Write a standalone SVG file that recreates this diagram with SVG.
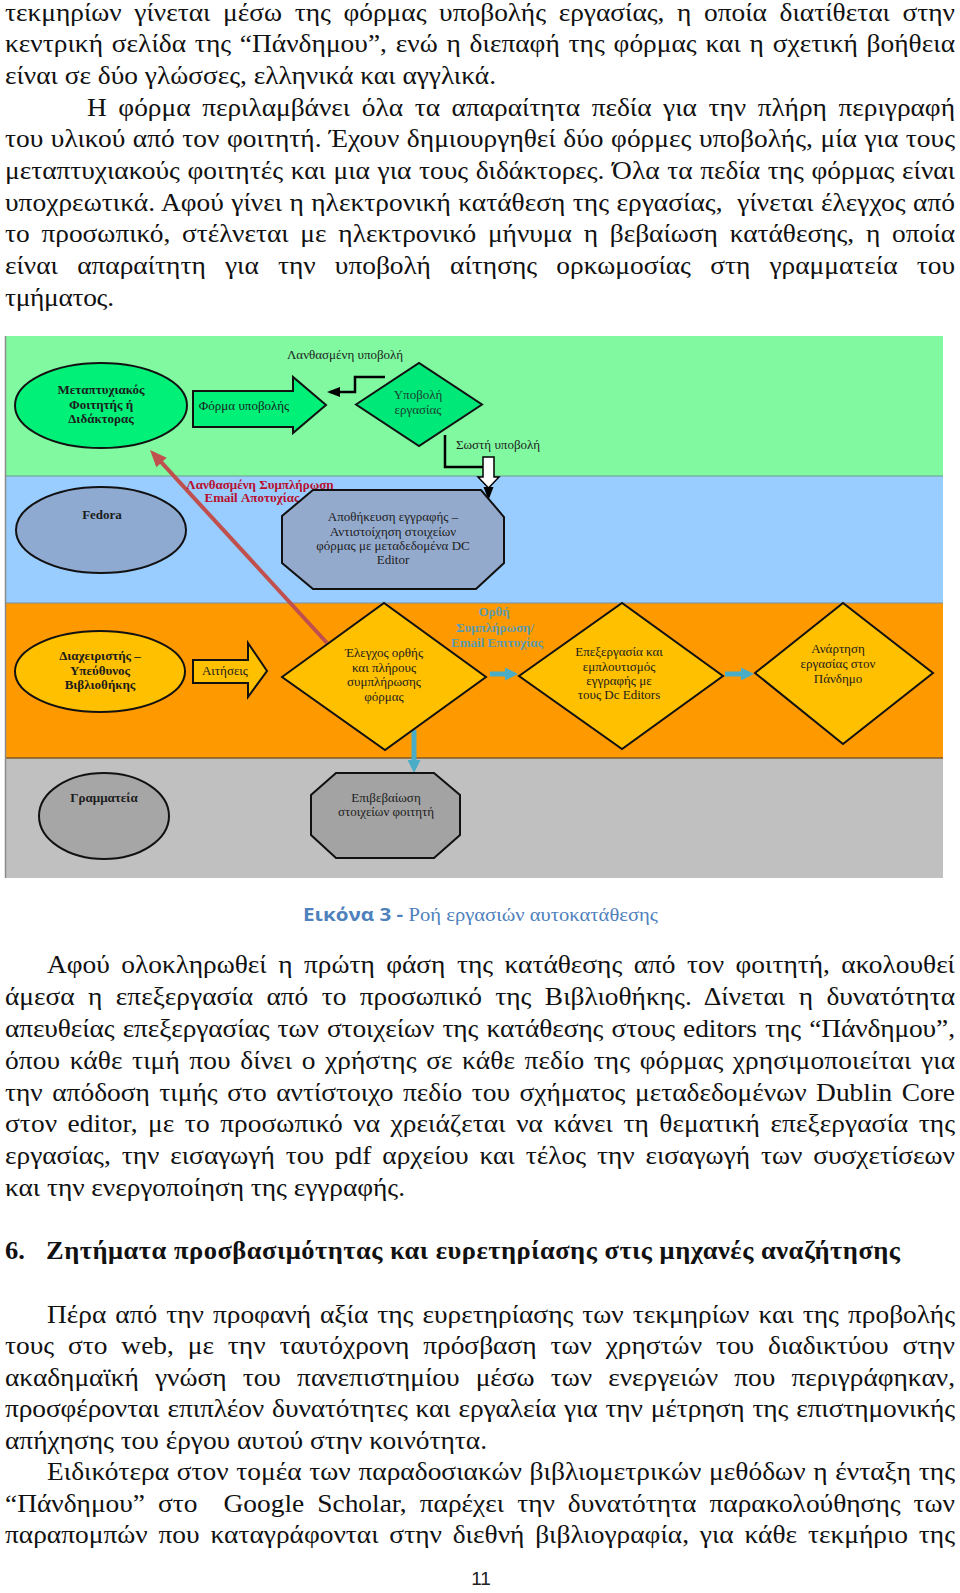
<svg xmlns="http://www.w3.org/2000/svg" width="960" height="1593" viewBox="0 0 960 1593">
<style>
.body{font-family:"Liberation Serif","Times New Roman",serif;font-size:26px;fill:#111}
.hd{font-family:"Liberation Serif","Times New Roman",serif;font-size:25px;font-weight:bold;fill:#111}
.dg{font-family:"Liberation Serif","Times New Roman",serif;font-size:13px;fill:#1c1c1c;text-anchor:middle}
.b{font-weight:bold}
.red{fill:#b8102e}
.teal{fill:#5b9bad}
.nstroke{stroke:#111;stroke-width:2}
.conn{fill:none;stroke:#000;stroke-width:2.5}
</style>
<defs>
<marker id="ahBlack" markerWidth="14" markerHeight="12" refX="10" refY="5" orient="auto" markerUnits="userSpaceOnUse" overflow="visible"><path d="M0,0 L13,5 L0,10 z" fill="#000"/></marker>
<marker id="ahRed" markerWidth="18" markerHeight="16" refX="12" refY="7" orient="auto" markerUnits="userSpaceOnUse" overflow="visible"><path d="M0,0 L17,7 L0,14 z" fill="#c0504d"/></marker>
<marker id="ahCyan" markerWidth="14" markerHeight="14" refX="8" refY="6.5" orient="auto" markerUnits="userSpaceOnUse" overflow="visible"><path d="M0,0 L13,6.5 L0,13 z" fill="#4bacc6"/></marker>
</defs>
<rect width="960" height="1593" fill="#fff"/>

<g id="text-top" transform="scale(1.054 1)">
<text class="body" x="4.744" y="20.5" word-spacing="5.46" textLength="901.33" lengthAdjust="spacing">τεκμηρίων γίνεται μέσω της φόρμας υποβολής εργασίας, η οποία διατίθεται στην</text>
<text class="body" x="4.744" y="52.2" word-spacing="1.8" textLength="901.33" lengthAdjust="spacing">κεντρική σελίδα της “Πάνδημου”, ενώ η διεπαφή της φόρμας και η σχετική βοήθεια</text>
<text class="body" x="4.744" y="83.9" textLength="465.84" lengthAdjust="spacing">είναι σε δύο γλώσσες, ελληνικά και αγγλικά.</text>
<text class="body" x="82.54" y="115.6" word-spacing="4.53" textLength="823.53" lengthAdjust="spacing">Η φόρμα περιλαμβάνει όλα τα απαραίτητα πεδία για την πλήρη περιγραφή</text>
<text class="body" x="4.744" y="147.3" word-spacing="0.6" textLength="901.33" lengthAdjust="spacing">του υλικού από τον φοιτητή. Έχουν δημιουργηθεί δύο φόρμες υποβολής, μία για τους</text>
<text class="body" x="4.744" y="179" word-spacing="0.8" textLength="901.33" lengthAdjust="spacing">μεταπτυχιακούς φοιτητές και μια για τους διδάκτορες. Όλα τα πεδία της φόρμας είναι</text>
<text class="body" x="4.744" y="210.7" word-spacing="0.4" textLength="901.33" lengthAdjust="spacing">υποχρεωτικά. Αφού γίνει η ηλεκτρονική κατάθεση της εργασίας, &#160;γίνεται έλεγχος από</text>
<text class="body" x="4.744" y="242.4" word-spacing="4.71" textLength="901.33" lengthAdjust="spacing">το προσωπικό, στέλνεται με ηλεκτρονικό μήνυμα η βεβαίωση κατάθεσης, η οποία</text>
<text class="body" x="4.744" y="274.1" word-spacing="11.71" textLength="901.33" lengthAdjust="spacing">είναι απαραίτητη για την υποβολή αίτησης ορκωμοσίας στη γραμματεία του</text>
<text class="body" x="4.744" y="305.8" textLength="103.42" lengthAdjust="spacing">τμήματος.</text>
</g>

<g id="bands">
<rect x="5" y="336" width="938" height="140" fill="#80f9a0"/>
<rect x="5" y="476" width="938" height="127" fill="#99ccff"/>
<rect x="5" y="603" width="938" height="155" fill="#ff9900"/>
<rect x="5" y="758" width="938" height="120" fill="#c0c0c0"/>
<line x1="5" y1="476" x2="943" y2="476" stroke="#6e9c8c" stroke-width="1.2"/>
<line x1="5" y1="603" x2="943" y2="603" stroke="#7f8fa0" stroke-width="1.2"/>
<line x1="5" y1="758" x2="943" y2="758" stroke="#7f5a2a" stroke-width="1.5"/>
<line x1="5.5" y1="336" x2="5.5" y2="878" stroke="#8a8a8a" stroke-width="1.5"/>
</g>

<g id="connectors">
<polyline class="conn" points="385,377 355,377 355,392 330,392" marker-end="url(#ahBlack)"/>
<polyline class="conn" points="445,435 445,467 483,467"/>
<polygon points="483,457 494,457 494,477 499,477 488.5,488 478,477 483,477" fill="#fff" stroke="#000" stroke-width="1.5"/>
<line x1="488.5" y1="488" x2="488.5" y2="497" stroke="#000" stroke-width="2" marker-end="url(#ahBlack)"/>
<line x1="327" y1="643" x2="153.4" y2="453.7" stroke="#c0504d" stroke-width="4" marker-end="url(#ahRed)"/>
<line x1="490" y1="674" x2="513" y2="674" stroke="#4bacc6" stroke-width="5" marker-end="url(#ahCyan)"/>
<line x1="725" y1="674" x2="749" y2="674" stroke="#4bacc6" stroke-width="5" marker-end="url(#ahCyan)"/>
<line x1="414" y1="730" x2="414" y2="768" stroke="#4bacc6" stroke-width="5" marker-end="url(#ahCyan)"/>
<text class="dg" x="345" y="359">Λανθασμένη υποβολή</text>
<text class="dg" x="498" y="449">Σωστή υποβολή</text>
<text class="dg b red" x="260" y="489">Λανθασμένη Συμπλήρωση</text>
<text class="dg b red" x="252" y="502">Email Αποτυχίας</text>
<text class="dg b teal" x="494" y="616">Ορθή</text>
<text class="dg b teal" x="495" y="631.5">Συμπλήρωση/</text>
<text class="dg b teal" x="497" y="647">Email Επιτυχίας</text>
</g>

<g id="student">
<ellipse cx="101" cy="405.5" rx="86" ry="42.5" fill="#00f078" class="nstroke"/>
<text class="dg b" x="101" y="394">Μεταπτυχιακός</text>
<text class="dg b" x="101" y="408.5">Φοιτητής ή</text>
<text class="dg b" x="101" y="423">Διδάκτορας</text>
</g>

<g id="form-arrow">
<polygon points="193,391 293,391 293,377 326,405 293,433 293,427 193,427" fill="#00f078" class="nstroke"/>
<text class="dg" x="244" y="410">Φόρμα υποβολής</text>
</g>

<g id="submit">
<polygon points="356,404.5 419,363 482,404.5 419,446" fill="#00e878" class="nstroke"/>
<text class="dg" x="418" y="399" style="fill:#1a3f30">Υποβολή</text>
<text class="dg" x="418" y="414" style="fill:#1a3f30">εργασίας</text>
</g>

<g id="fedora">
<ellipse cx="101" cy="530" rx="85" ry="43" fill="#8eaad0" class="nstroke"/>
<text class="dg b" x="102" y="519">Fedora</text>
</g>

<g id="store">
<polygon points="313,490 481,490 504,517 504,563 476,589 313,589 282,563 282,516" fill="#94aacc" class="nstroke"/>
<text class="dg" x="393" y="521">Αποθήκευση εγγραφής –</text>
<text class="dg" x="393" y="536">Αντιστοίχηση στοιχείων</text>
<text class="dg" x="393" y="550">φόρμας με μεταδεδομένα DC</text>
<text class="dg" x="393" y="564">Editor</text>
</g>

<g id="admin">
<ellipse cx="100" cy="671.5" rx="85" ry="40.5" fill="#ffc000" class="nstroke"/>
<text class="dg b" x="100" y="660">Διαχειριστής –</text>
<text class="dg b" x="100" y="674.5">Υπεύθυνος</text>
<text class="dg b" x="100" y="689">Βιβλιοθήκης</text>
</g>

<g id="requests-arrow">
<polygon points="193,660 248,660 248,643 267,671 248,697 248,683 193,683" fill="#ffc000" class="nstroke"/>
<text class="dg" x="225" y="675">Αιτήσεις</text>
</g>

<g id="check">
<polygon points="282,677 384,603 486,677 385,750" fill="#ffc000" class="nstroke"/>
<text class="dg" x="384" y="657">Έλεγχος ορθής</text>
<text class="dg" x="384" y="671.5">και πλήρους</text>
<text class="dg" x="384" y="686">συμπλήρωσης</text>
<text class="dg" x="384" y="700.5">φόρμας</text>
</g>

<g id="edit">
<polygon points="519,676 622,603 723,676 622,749" fill="#ffc000" class="nstroke"/>
<text class="dg" x="619" y="656">Επεξεργασία και</text>
<text class="dg" x="619" y="670.5">εμπλουτισμός</text>
<text class="dg" x="619" y="685">εγγραφής με</text>
<text class="dg" x="619" y="699">τους Dc Editors</text>
</g>

<g id="publish">
<polygon points="755,673 843,603 933,673 843,744" fill="#ffc000" class="nstroke"/>
<text class="dg" x="838" y="653">Ανάρτηση</text>
<text class="dg" x="838" y="668">εργασίας στον</text>
<text class="dg" x="838" y="683">Πάνδημο</text>
</g>

<g id="secretariat">
<ellipse cx="104" cy="816" rx="65" ry="43" fill="#a6a6a6" class="nstroke"/>
<text class="dg b" x="104" y="802">Γραμματεία</text>
</g>

<g id="verify">
<polygon points="336,773 434,773 460,795 460,835 434,858 336,858 311,835 311,795" fill="#a3a3a3" class="nstroke"/>
<text class="dg" x="386" y="802">Επιβεβαίωση</text>
<text class="dg" x="386" y="816">στοιχείων φοιτητή</text>
</g>

<text x="303" y="921" textLength="355" lengthAdjust="spacingAndGlyphs" font-size="18" fill="#4f81bd" font-family="Liberation Serif, serif"><tspan font-family="Open Sans, Liberation Sans, sans-serif" font-weight="bold">Εικόνα 3 - </tspan><tspan>Ροή εργασιών αυτοκατάθεσης</tspan></text>

<g id="text-bottom" transform="scale(1.054 1)">
<text class="body" x="44.59" y="973" word-spacing="4.43" textLength="861.48" lengthAdjust="spacing">Αφού ολοκληρωθεί η πρώτη φάση της κατάθεσης από τον φοιτητή, ακολουθεί</text>
<text class="body" x="4.744" y="1004.9" word-spacing="6.23" textLength="901.33" lengthAdjust="spacing">άμεσα η επεξεργασία από το προσωπικό της Βιβλιοθήκης. Δίνεται η δυνατότητα</text>
<text class="body" x="4.744" y="1036.8" word-spacing="1.37" textLength="901.33" lengthAdjust="spacing">απευθείας επεξεργασίας των στοιχείων της κατάθεσης στους editors της “Πάνδημου”,</text>
<text class="body" x="4.744" y="1068.7" word-spacing="2.38" textLength="901.33" lengthAdjust="spacing">όπου κάθε τιμή που δίνει ο χρήστης σε κάθε πεδίο της φόρμας χρησιμοποιείται για</text>
<text class="body" x="4.744" y="1100.6" word-spacing="2.53" textLength="901.33" lengthAdjust="spacing">την απόδοση τιμής στο αντίστοιχο πεδίο του σχήματος μεταδεδομένων Dublin Core</text>
<text class="body" x="4.744" y="1132.5" word-spacing="3.38" textLength="901.33" lengthAdjust="spacing">στον editor, με το προσωπικό να χρειάζεται να κάνει τη θεματική επεξεργασία της</text>
<text class="body" x="4.744" y="1164.4" word-spacing="3.86" textLength="901.33" lengthAdjust="spacing">εργασίας, την εισαγωγή του pdf αρχείου και τέλος την εισαγωγή των συσχετίσεων</text>
<text class="body" x="4.744" y="1196.3" textLength="379.51" lengthAdjust="spacing">και την ενεργοποίηση της εγγραφής.</text>
<text class="body" x="44.59" y="1323" word-spacing="2.04" textLength="861.48" lengthAdjust="spacing">Πέρα από την προφανή αξία της ευρετηρίασης των τεκμηρίων και της προβολής</text>
<text class="body" x="4.744" y="1354.5" word-spacing="6.69" textLength="901.33" lengthAdjust="spacing">τους στο web, με την ταυτόχρονη πρόσβαση των χρηστών του διαδικτύου στην</text>
<text class="body" x="4.744" y="1386" word-spacing="8.84" textLength="901.33" lengthAdjust="spacing">ακαδημαϊκή γνώση του πανεπιστημίου μέσω των ενεργειών που περιγράφηκαν,</text>
<text class="body" x="4.744" y="1417.5" word-spacing="1.16" textLength="901.33" lengthAdjust="spacing">προσφέρονται επιπλέον δυνατότητες και εργαλεία για την μέτρηση της επιστημονικής</text>
<text class="body" x="4.744" y="1449" textLength="457.31" lengthAdjust="spacing">απήχησης του έργου αυτού στην κοινότητα.</text>
<text class="body" x="44.59" y="1480.5" word-spacing="0.74" textLength="861.48" lengthAdjust="spacing">Ειδικότερα στον τομέα των παραδοσιακών βιβλιομετρικών μεθόδων η ένταξη της</text>
<text class="body" x="4.744" y="1512" word-spacing="5.86" textLength="901.33" lengthAdjust="spacing">“Πάνδημου” στο &#160;Google Scholar, παρέχει την δυνατότητα παρακολούθησης των</text>
<text class="body" x="4.744" y="1543.5" word-spacing="3.76" textLength="901.33" lengthAdjust="spacing">παραπομπών που καταγράφονται στην διεθνή βιβλιογραφία, για κάθε τεκμήριο της</text>
</g>

<g id="heading" transform="scale(1.06 1)">
<text class="hd" x="4.72" y="1259">6.</text>
<text class="hd" x="43.4" y="1259" textLength="805.7" lengthAdjust="spacing">Ζητήματα προσβασιμότητας και ευρετηρίασης στις μηχανές αναζήτησης</text>
</g>

<text x="481" y="1585" text-anchor="middle" font-family="Liberation Sans, Arial, sans-serif" font-size="19" fill="#222">11</text>
</svg>
